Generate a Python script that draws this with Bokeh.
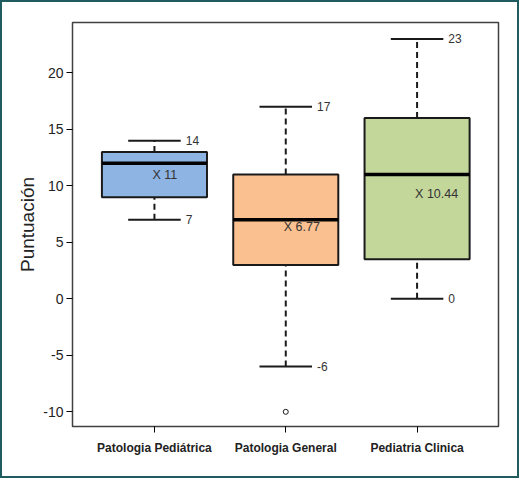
import numpy as np

from bokeh.plotting import figure
from bokeh.models import Range1d, FixedTicker, ColumnDataSource
from bokeh.core.properties import value
from bokeh.embed import file_html
from bokeh.resources import INLINE

#-------------- data ----------#
categories = ["Patologia Pediátrica", "Patologia General", "Pediatria Clinica"]
q1 = [9, 3, 3.5]
q3 = [13, 11, 16]
median = [12, 7, 11]
lower = [7, -6, 0]
upper = [14, 17, 23]
means = [11, 6.77, 10.44]
outlier_cat = [2]
outlier_val = [-10]
y_ticks = [-10, -5, 0, 5, 10, 15, 20]
colors = ["#8eb4e3", "#fac090", "#c4d79b"]
#------------------------------#

xs = np.arange(1, len(categories) + 1)
box_w = 0.8
cap_w = 0.4
FONT = "Liberation Sans"
mean_label_shift = [0, 5, 13]   # px, nudged down as in the original

p = figure(width=519, height=478, output_backend="svg", toolbar_location=None,
           x_range=Range1d(0.376, 3.62), y_range=Range1d(-11.3, 24.46),
           min_border_left=70, min_border_right=23, min_border_top=20, min_border_bottom=54)
p.styles = {"border": "2px solid #1f5c5f"}
p.background_fill_color = "white"
p.border_fill_color = "white"
p.outline_line_color = "#404040"
p.outline_line_width = 1.5
p.xgrid.visible = False
p.ygrid.visible = False

# whiskers (dashed) + caps
p.segment(x0=xs, y0=q3, x1=xs, y1=upper, line_color="#1a1a1a", line_width=2, line_dash="6 4")
p.segment(x0=xs, y0=lower, x1=xs, y1=q1, line_color="#1a1a1a", line_width=2, line_dash="6 4")
p.segment(x0=xs - cap_w / 2, y0=upper, x1=xs + cap_w / 2, y1=upper, line_color="#1a1a1a", line_width=2)
p.segment(x0=xs - cap_w / 2, y0=lower, x1=xs + cap_w / 2, y1=lower, line_color="#1a1a1a", line_width=2)

# boxes
p.quad(left=xs - box_w / 2, right=xs + box_w / 2, bottom=q1, top=q3,
       fill_color=colors, line_color="#1a1a1a", line_width=2)
p.segment(x0=xs - box_w / 2, y0=median, x1=xs + box_w / 2, y1=median, line_color="black", line_width=3.5)

# outlier
p.scatter(outlier_cat, outlier_val, size=5, marker="circle", fill_color="white", line_color="#1a1a1a", line_width=1)

# labels
lab = ColumnDataSource(dict(
    x=list(xs + cap_w / 2) * 2,
    y=upper + lower,
    t=[str(v) for v in upper + lower],
))
p.text(x="x", y="y", text="t", source=lab, x_offset=5, text_baseline="middle",
       text_font_size="12px", text_color="#333333", text_font=value(FONT))

mlab = ColumnDataSource(dict(x=xs, y=means, dy=mean_label_shift, t=["X %g" % m for m in means]))
p.text(x="x", y="y", text="t", source=mlab, x_offset=-2, y_offset="dy", text_baseline="middle",
       text_font_size="12.5px", text_color="#333333", text_font=value(FONT))

# axes
p.xaxis.ticker = FixedTicker(ticks=list(xs))
p.xaxis.major_label_overrides = {int(x): c for x, c in zip(xs, categories)}
p.xaxis.major_label_text_font = FONT
p.xaxis.major_label_text_font_style = "bold"
p.xaxis.major_label_text_font_size = "12px"
p.xaxis.major_label_text_color = "#222222"
p.xaxis.major_label_standoff = 8
p.xaxis.axis_line_color = None
p.xaxis.major_tick_in = 0
p.xaxis.major_tick_out = 6
p.xaxis.minor_tick_line_color = None

p.yaxis.ticker = FixedTicker(ticks=y_ticks)
p.yaxis.major_label_overrides = {t: str(t) for t in y_ticks}
p.yaxis.axis_label = "Puntuación"
p.yaxis.axis_label_text_font = FONT
p.yaxis.axis_label_text_font_style = "normal"
p.yaxis.axis_label_text_font_size = "19px"
p.yaxis.axis_label_text_color = "#222222"
p.yaxis.axis_label_standoff = 2
p.yaxis.major_label_text_font = FONT
p.yaxis.major_label_text_font_size = "14px"
p.yaxis.major_label_text_color = "#222222"
p.yaxis.major_label_standoff = 3
p.yaxis.axis_line_color = None
p.yaxis.major_tick_in = 0
p.yaxis.major_tick_out = 6
p.yaxis.minor_tick_line_color = None

open("out.html", "w").write(file_html(p, INLINE))
